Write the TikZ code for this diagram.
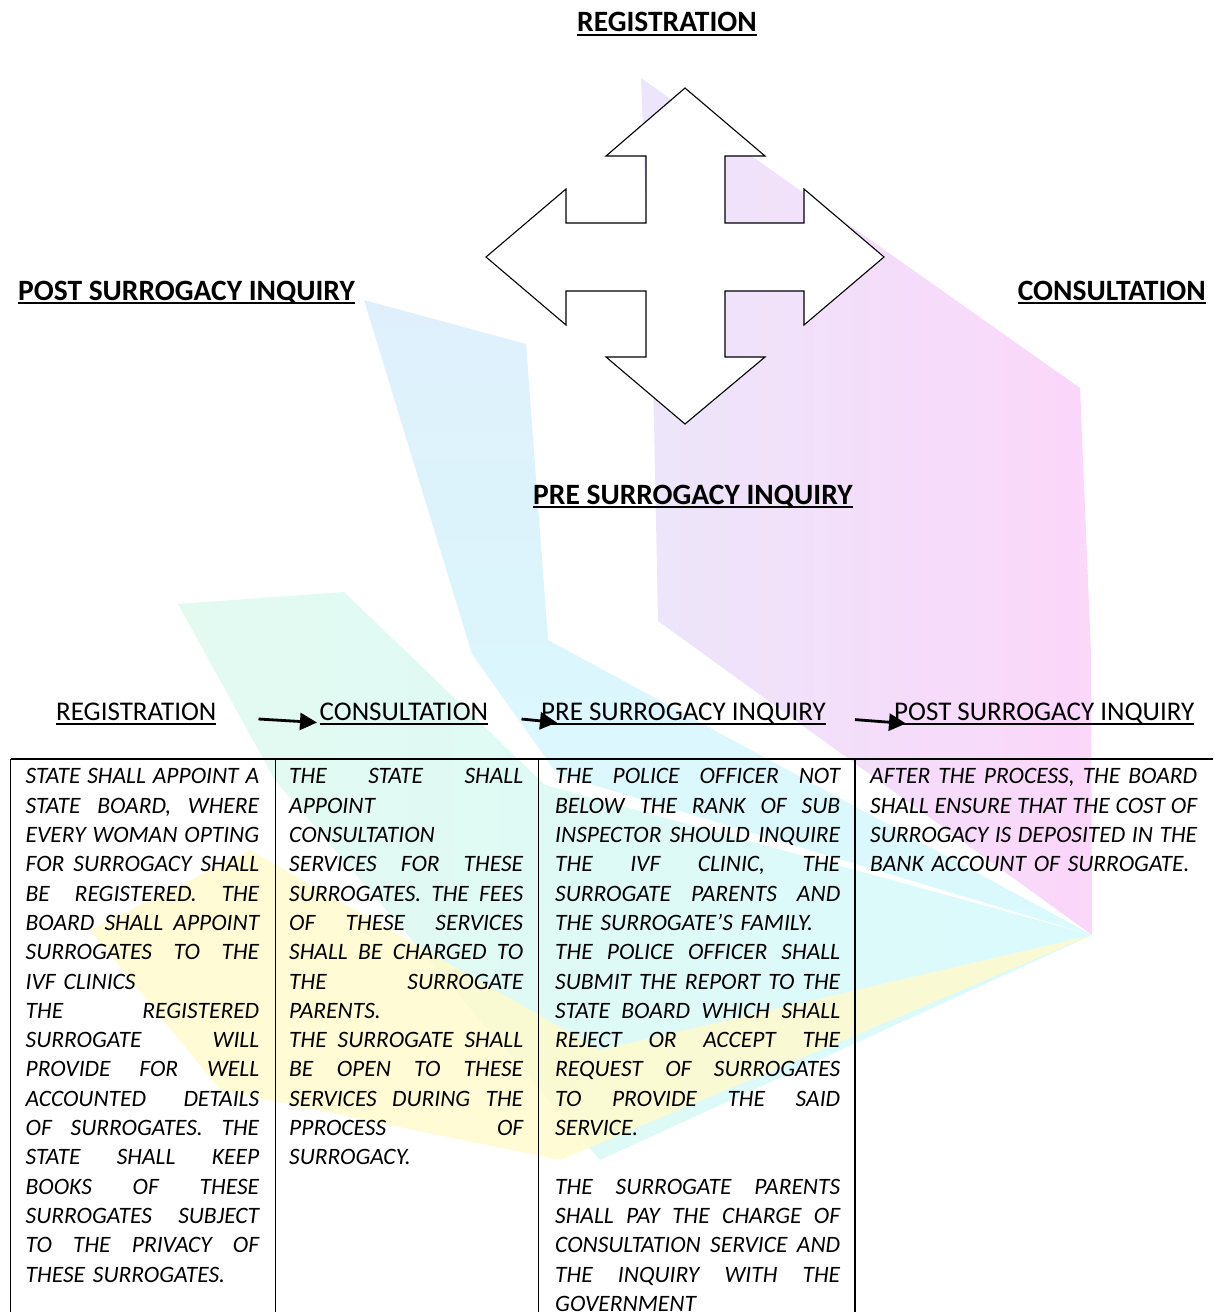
\documentclass[tikz,border=0pt]{standalone}
\usepackage{fontspec}
\setmainfont{Carlito}
\usetikzlibrary{arrows.meta}
\setlength{\parindent}{0pt}
\definecolor{wmpink}{RGB}{251,208,250}
\definecolor{wmlav}{RGB}{234,226,250}
\definecolor{wmblue}{RGB}{218,238,252}
\definecolor{wmcyan}{RGB}{212,250,253}
\definecolor{wmgreen}{RGB}{222,250,238}
\definecolor{wmyellow}{RGB}{255,251,205}
\newlength\cw
\newcommand\ulT[1]{\setbox0\hbox{#1}\rlap{\rule[-4pt]{\wd0}{2pt}}\box0}
\newcommand\ulR[1]{\setbox0\hbox{#1}\rlap{\rule[-4.5pt]{\wd0}{1.8pt}}\box0}
\newcommand\J[1]{\makebox[\cw][s]{\spaceskip=0.226em plus 3em minus 0.12em\relax #1}}
\tikzset{
  x=1pt, y=-1pt,
  tophead/.style={font=\fontsize{29.5}{33}\selectfont\bfseries, inner sep=0pt, anchor=base west},
  rowhead/.style={font=\fontsize{27}{31}\selectfont, inner sep=0pt, anchor=base west},
  body/.style={font=\fontsize{23.5}{29.3}\selectfont\itshape, inner sep=0pt, anchor=north west, align=left},
  grid/.style={line width=1.6pt},
  flow/.style={line width=2.8pt, -{Triangle[length=17pt,width=17pt]}},
  crossshape/.style={draw, line width=1.1pt, fill=white, line join=miter},
  wm/.style={fill opacity=0.85},
}
\begin{document}
\begin{tikzpicture}
\useasboundingbox (0,0) rectangle (1213,1312);
\fill[white] (0,0) rectangle (1213,1312);
% watermark
\shade[wm, left color=wmlav, right color=wmpink] (641,78) -- (1080,388) -- (1091,654) -- (1092,935) -- (658,621) -- (654,419) -- cycle;
\shade[wm, top color=wmblue, bottom color=wmcyan] (364,300) -- (526,344) -- (548,640) -- (1092,935) -- (557,774) -- (472,654) -- cycle;
\shade[wm, left color=wmgreen, right color=wmcyan] (178,604) -- (344,592) -- (545,785) -- (1092,935) -- (600,1160) -- (275,780) -- cycle;
\fill[wm, wmyellow] (90,930) -- (250,850) -- (600,1050) -- (1092,935) -- (560,1160) -- (220,1090) -- cycle;
% cross
\draw[crossshape] (685,88) -- (765,156) -- (725,156) -- (725,223) -- (804,223) -- (804,189) -- (884,257) -- (804,325) -- (804,291) -- (725,291) -- (725,357) -- (765,357) -- (685,424) -- (606,357) -- (646,357) -- (646,291) -- (566,291) -- (566,325) -- (486,257) -- (566,189) -- (566,223) -- (646,223) -- (646,156) -- (606,156) -- cycle;
% top headings
\node[tophead] (tReg) at (577,31.5) {\ulT{REGISTRATION}};
\node[tophead] (tPost) at (18,300) {\ulT{POST SURROGACY INQUIRY}};
\node[tophead, anchor=base east] (tCon) at (1206,300) {\ulT{CONSULTATION}};
\node[tophead] (tPre) at (533,504) {\ulT{PRE SURROGACY INQUIRY}};
% row headings
\node[rowhead] (hReg) at (56,720.5) {\ulR{REGISTRATION}};
\node[rowhead] (hCon) at (319.5,720.5) {\ulR{CONSULTATION}};
\node[rowhead] (hPre) at (541,720.5) {\ulR{PRE SURROGACY INQUIRY}};
\node[rowhead] (hPost) at (894,720.5) {\ulR{POST SURROGACY INQUIRY}};
\coordinate (a1) at (258.5,719);
\coordinate (a2) at (521.5,719);
\coordinate (a3) at (855,719.6);
\draw[flow] (a1) -- ([shift={(-2.5pt,-2pt)}]hCon.base west);
\draw[flow] (a2) -- ([shift={(16pt,-2pt)}]hPre.base west);
\draw[flow] (a3) -- ([shift={(12pt,-3pt)}]hPost.base west);
% table
\draw[grid] (10.5,759) -- (1213,759);
\draw[grid] (10.5,759) -- (10.5,1312);
\draw[grid] (275.5,759) -- (275.5,1312);
\draw[grid] (538.5,759) -- (538.5,1312);
\draw[grid] (855,759) -- (855,1312);
% columns
\node[body, text width=233.5pt] (c1) at (25.5,768.5) {\setlength\cw{233.5pt}%
\J{STATE SHALL APPOINT A}\\
\J{STATE BOARD, WHERE}\\
\J{EVERY WOMAN OPTING}\\
\J{FOR SURROGACY SHALL}\\
\J{BE REGISTERED. THE}\\
\J{BOARD SHALL APPOINT}\\
\J{SURROGATES TO THE}\\
IVF CLINICS\\
\J{THE REGISTERED}\\
\J{SURROGATE WILL}\\
\J{PROVIDE FOR WELL}\\
\J{ACCOUNTED DETAILS}\\
\J{OF SURROGATES. THE}\\
\J{STATE SHALL KEEP}\\
\J{BOOKS OF THESE}\\
\J{SURROGATES SUBJECT}\\
\J{TO THE PRIVACY OF}\\
THESE SURROGATES.};
\node[body, text width=234pt] (c2) at (289,768.5) {\setlength\cw{234pt}%
\J{THE STATE SHALL}\\
APPOINT\\
CONSULTATION\\
\J{SERVICES FOR THESE}\\
\J{SURROGATES. THE FEES}\\
\J{OF THESE SERVICES}\\
\J{SHALL BE CHARGED TO}\\
\J{THE SURROGATE}\\
PARENTS.\\
\J{THE SURROGATE SHALL}\\
\J{BE OPEN TO THESE}\\
\J{SERVICES DURING THE}\\
\J{PPROCESS OF}\\
SURROGACY.};
\node[body, text width=285pt] (c3) at (555,768.5) {\setlength\cw{285pt}%
\J{THE POLICE OFFICER NOT}\\
\J{BELOW THE RANK OF SUB}\\
\J{INSPECTOR SHOULD INQUIRE}\\
\J{THE IVF CLINIC, THE}\\
\J{SURROGATE PARENTS AND}\\
THE SURROGATE’S FAMILY.\\
\J{THE POLICE OFFICER SHALL}\\
\J{SUBMIT THE REPORT TO THE}\\
\J{STATE BOARD WHICH SHALL}\\
\J{REJECT OR ACCEPT THE}\\
\J{REQUEST OF SURROGATES}\\
\J{TO PROVIDE THE SAID}\\
SERVICE.\\
\mbox{}\\
\J{THE SURROGATE PARENTS}\\
\J{SHALL PAY THE CHARGE OF}\\
\J{CONSULTATION SERVICE AND}\\
\J{THE INQUIRY WITH THE}\\
GOVERNMENT};
\node[body, text width=327pt] (c4) at (870,768.5) {\setlength\cw{327pt}%
\J{AFTER THE PROCESS, THE BOARD}\\
\J{SHALL ENSURE THAT THE COST OF}\\
\J{SURROGACY IS DEPOSITED IN THE}\\
BANK ACCOUNT OF SURROGATE.};
\end{tikzpicture}
\end{document}
